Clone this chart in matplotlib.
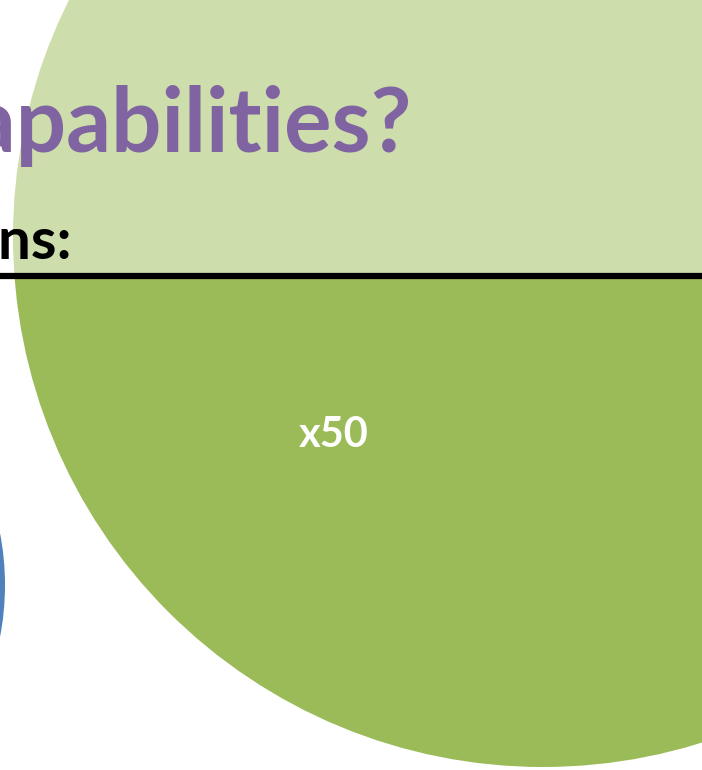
import matplotlib
matplotlib.use("Agg")
import matplotlib.pyplot as plt
from matplotlib.patches import Circle, Rectangle

# slide fragment: big green bubble, part of a blue one, title text
circle_names = ["green", "blue"]
circle_centers = [(543, 237), (-268, 585)]
circle_radii = [530, 273]
circle_colors = ["#9BBB59", "#4F81BD"]
circle_labels = ["x50", ""]

title_text = "Capabilities?"
subtitle_text = "Questions:"

fig = plt.figure(figsize=(7.02, 7.70), dpi=100)
ax = fig.add_axes([0, 0, 1, 1])
ax.set_xlim(0, 702)
ax.set_ylim(770, 0)
ax.axis("off")

for c, r, col, lab in zip(circle_centers, circle_radii, circle_colors, circle_labels):
    ax.add_patch(Circle(c, r, facecolor=col, edgecolor="none", zorder=1))

ax.text(334, 435, circle_labels[0], color="white", fontsize=30, fontweight="bold",
        family="Lato", ha="center", va="center", zorder=3)

# washed-out header band
ax.add_patch(Rectangle((0, 0), 702, 276, facecolor="white", alpha=0.5,
                       edgecolor="none", zorder=2))
ax.plot([0, 702], [276, 276], color="black", lw=4.5, zorder=4, solid_capstyle="butt")

ax.text(412, 152, title_text, color="#8064A2", fontsize=64, fontweight="bold",
        family="Lato", ha="right", va="baseline", zorder=5)
ax.text(72, 258, subtitle_text, color="black", fontsize=42, fontweight="bold",
        family="Lato", ha="right", va="baseline", zorder=5)

fig.savefig("out.png", dpi=100)
